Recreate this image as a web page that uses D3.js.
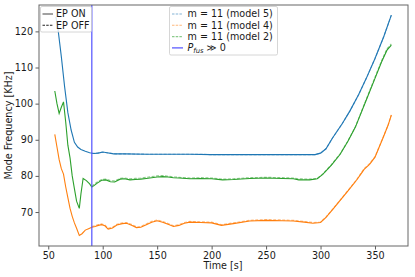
<!DOCTYPE html>
<html>
<head>
<meta charset="utf-8">
<script src="https://cdn.jsdelivr.net/npm/d3@7"></script>
<style>
  body { margin: 0; background: #fff; }
  svg { font-family: "DejaVu Sans", sans-serif; }
</style>
</head>
<body>
<svg width="415" height="277"></svg>
<script>

// --- data ---
var T_FUS = 90

// EP ON (solid)
var t5_on = [57, 59, 62, 65, 68, 71, 74, 77, 80, 84, 88, 92, 96, 100, 104, 110, 120, 140, 160, 180, 200, 220, 240, 260, 280, 295, 300, 305, 311, 320, 327, 335, 342, 350, 358, 365]
var f5_on = [124, 120.5, 113, 104.7, 97.5, 92.7, 89.3, 88, 87.3, 86.8, 86.4, 86.2, 86.3, 86.6, 86.4, 86.1, 86.1, 86.0, 86.0, 86.0, 85.9, 85.9, 85.9, 85.9, 85.9, 85.9, 86.3, 87.5, 90.5, 94.5, 98, 102.5, 107, 112.5, 118.5, 124.5]

var t2_on = [56, 58, 60, 62, 64, 66, 68, 70, 72, 74, 76, 78.5, 80, 82, 85, 88, 90, 92, 95, 99, 103, 107, 111, 116, 120, 125, 130, 135, 140, 145, 150, 155, 160, 165, 170, 180, 190, 200, 210, 220, 235, 250, 265, 275, 280, 290, 297, 302, 310, 318, 325, 332, 342, 350, 356, 361, 365]
var f2_on = [103.5, 100, 97.3, 99, 100.5, 95, 88.5, 85, 80, 76.5, 73, 71, 75, 79.3, 78.7, 77.8, 76.9, 77.3, 78, 78.8, 78.9, 78.4, 78.3, 79.1, 79.2, 78.9, 79, 79.1, 79.3, 79.5, 79.7, 79.8, 79.7, 79.5, 79.4, 79.2, 79.3, 79.2, 78.9, 79, 79.3, 79.4, 79.3, 79.2, 78.9, 78.9, 79.2, 80.4, 83, 86, 89.5, 93.5, 101, 107, 111.5, 114.8, 116.2]

var t4_on = [56, 58, 60, 62, 64, 66, 68, 70, 72, 74, 76, 78.5, 81, 84, 87, 90, 93, 96, 99, 102, 105, 109, 113, 118, 122, 127, 131, 135, 140, 145, 150, 155, 160, 165, 170, 175, 180, 190, 200, 209, 220, 235, 250, 265, 275, 285, 293, 300, 305, 312, 318, 325, 333, 337, 340, 345, 350, 357.6, 362, 365]
var f4_on = [91.5, 88, 84.5, 82, 80.5, 77, 74, 71, 68.8, 67, 65.5, 63.5, 64, 65, 65.4, 65.8, 66, 66.3, 66.5, 66.2, 65.3, 65.6, 66.4, 66.8, 66.9, 66.3, 65.7, 65.8, 66.5, 67.2, 67.6, 67.2, 66.6, 66, 66.3, 66.9, 67.2, 67.1, 67, 66.3, 66.8, 67.5, 67.7, 67.6, 67.5, 67.2, 66.9, 67.1, 68.5, 71, 73.2, 75.8, 78.8, 80.5, 81.8, 83.2, 85.2, 90.7, 94, 96.8]

// EP OFF (dashed), only after fusion power turns on
var t5_off = [90, 94, 98, 102, 106, 112, 120, 140, 160, 180, 200, 220, 240, 260, 280, 295, 300, 305, 311, 320, 327, 335, 342, 350, 358, 365]
var f5_off = [86.2, 86.3, 86.5, 86.5, 86.3, 86.1, 86.1, 86.0, 86.0, 86.0, 85.9, 85.9, 85.9, 85.9, 85.9, 85.9, 86.3, 87.5, 90.5, 94.5, 98, 102.5, 107, 112.5, 118.5, 124.5]

var t2_off = [90, 92, 95, 99, 103, 107, 111, 116, 120, 125, 130, 135, 140, 145, 150, 155, 160, 165, 170, 180, 190, 200, 210, 220, 235, 250, 265, 275, 280, 290, 297, 302, 310, 318, 325, 332, 342, 350, 356, 361, 365]
var f2_off = [77.1, 77.6, 78.3, 79, 79.1, 78.7, 78.6, 79.3, 79.4, 79.2, 79.3, 79.4, 79.6, 79.8, 80.0, 80.1, 79.9, 79.7, 79.6, 79.4, 79.5, 79.4, 79.1, 79.2, 79.5, 79.6, 79.5, 79.4, 79.2, 79.1, 79.3, 80.5, 83.1, 86.1, 89.6, 93.6, 101.2, 107.3, 111.8, 115.2, 116.5]

var t4_off = [90, 93, 96, 99, 102, 105, 109, 113, 118, 122, 127, 131, 135, 140, 145, 150, 155, 160, 165, 170, 175, 180, 190, 200, 209, 220, 235, 250, 265, 275, 285, 293, 300, 305, 312, 318, 325, 333, 337, 340, 345, 350, 357.6, 362, 365]
var f4_off = [66.0, 66.2, 66.5, 66.7, 66.4, 65.5, 65.8, 66.6, 67.0, 67.1, 66.5, 65.9, 66.0, 66.7, 67.4, 67.8, 67.4, 66.8, 66.2, 66.5, 67.1, 67.4, 67.3, 67.2, 66.5, 67.0, 67.7, 67.9, 67.8, 67.7, 67.4, 67.1, 67.2, 68.6, 71.1, 73.3, 75.9, 78.9, 80.7, 82.0, 83.4, 85.3, 90.8, 94.1, 96.9]

var series = [
  {label: "m = 11 (model 5)", color: "#1f77b4", on: [t5_on, f5_on], off: [t5_off, f5_off]},
  {label: "m = 11 (model 4)", color: "#ff7f0e", on: [t4_on, f4_on], off: [t4_off, f4_off]},
  {label: "m = 11 (model 2)", color: "#2ca02c", on: [t2_on, f2_on], off: [t2_off, f2_off]}
]

var xTicks = [50, 100, 150, 200, 250, 300, 350],
    yTicks = [70, 80, 90, 100, 110, 120]

var FS = "9.6px"

var svg = d3.select("svg"),
    pL = 39, pR = 408, pT = 5, pB = 246

var x = d3.scaleLinear().domain([41.5, 380.3]).range([pL, pR]),
    y = d3.scaleLinear().domain([60.6, 127.3]).range([pB, pT])

var line = d3.line()
    .x(function(d) { return x(d[0]) })
    .y(function(d) { return y(d[1]) })

function pairs(a) { return a[0].map(function(t, i) { return [t, a[1][i]] }) }

var plot = svg.append("g")

// solid EP ON
series.forEach(function(s) {
  plot.append("path").datum(pairs(s.on))
    .attr("fill", "none").attr("stroke", s.color).attr("stroke-width", 1.1)
    .attr("d", line)
})
// dashed EP OFF
series.forEach(function(s) {
  plot.append("path").datum(pairs(s.off))
    .attr("fill", "none").attr("stroke", s.color).attr("stroke-width", 1.2)
    .attr("stroke-opacity", 0.55).attr("stroke-dasharray", "3,1.5")
    .attr("d", line)
})

// fusion power marker
plot.append("line")
  .attr("x1", x(T_FUS)).attr("x2", x(T_FUS))
  .attr("y1", pT).attr("y2", pB)
  .attr("stroke", "#5050ff").attr("stroke-width", 1.2)

// axes
var xAxis = d3.axisBottom(x).tickValues(xTicks).tickSize(3.5).tickPadding(2.5)
var yAxis = d3.axisLeft(y).tickValues(yTicks).tickSize(3.5).tickPadding(2.5)

svg.append("g").attr("transform", "translate(0," + pB + ")").call(xAxis)
svg.append("g").attr("transform", "translate(" + pL + ",0)").call(yAxis)
svg.selectAll(".domain").remove()
svg.selectAll(".tick line").attr("stroke", "#333").attr("stroke-width", 0.8)
svg.selectAll(".tick text").attr("font-size", FS).attr("fill", "#1a1a1a")
  .attr("font-family", "DejaVu Sans")

svg.append("rect")
  .attr("x", pL).attr("y", pT)
  .attr("width", pR - pL).attr("height", pB - pT)
  .attr("fill", "none").attr("stroke", "#666").attr("stroke-width", 1)

svg.append("text")
  .attr("x", 223).attr("y", 269)
  .attr("text-anchor", "middle").attr("font-size", FS).attr("fill", "#1a1a1a")
  .text("Time [s]")

svg.append("text")
  .attr("transform", "translate(11.5," + ((pT + pB) / 2) + ") rotate(-90)")
  .attr("text-anchor", "middle").attr("font-size", FS).attr("fill", "#1a1a1a")
  .text("Mode Frequency [KHz]")

// legends
function legendBox(x0, y0, w, h) {
  svg.append("rect").attr("x", x0).attr("y", y0).attr("width", w).attr("height", h)
    .attr("rx", 1.5).attr("fill", "#fff").attr("fill-opacity", 0.8)
    .attr("stroke", "#ccc").attr("stroke-width", 0.8)
}

legendBox(40.5, 6.5, 51, 25.5)
var leftItems = [{label: "EP ON", dash: null, color: "#555"}, {label: "EP OFF", dash: "2.5,1.2", color: "#222"}]
leftItems.forEach(function(d, i) {
  var yy = 14 + i * 11.3
  svg.append("line").attr("x1", 42.5).attr("x2", 53).attr("y1", yy).attr("y2", yy)
    .attr("stroke", d.color).attr("stroke-width", 1.1).attr("stroke-dasharray", d.dash)
  svg.append("text").attr("x", 56).attr("y", yy + 3.4).attr("font-size", FS).attr("fill", "#1a1a1a")
    .text(d.label)
})

legendBox(169.5, 6.5, 108, 48.5)
series.forEach(function(s, i) {
  var yy = 14 + i * 11.3
  svg.append("line").attr("x1", 172).attr("x2", 183).attr("y1", yy).attr("y2", yy)
    .attr("stroke", s.color).attr("stroke-opacity", 0.55).attr("stroke-width", 1.1)
    .attr("stroke-dasharray", "2.5,1.2")
  svg.append("text").attr("x", 187.5).attr("y", yy + 3.4).attr("font-size", FS).attr("fill", "#1a1a1a")
    .text(s.label)
})
var yp = 14 + 3 * 11.3
svg.append("line").attr("x1", 172).attr("x2", 183).attr("y1", yp).attr("y2", yp)
  .attr("stroke", "#5050ff").attr("stroke-width", 1.2)
var pt = svg.append("text").attr("x", 187.5).attr("y", yp + 3.4).attr("font-size", FS).attr("fill", "#1a1a1a")
pt.append("tspan").attr("font-style", "italic").text("P")
pt.append("tspan").attr("font-style", "italic").attr("font-size", "6.8px").attr("dy", 1.5).text("fus")
pt.append("tspan").attr("dy", -1.5).text(" \u226B 0")

</script>
</body>
</html>
